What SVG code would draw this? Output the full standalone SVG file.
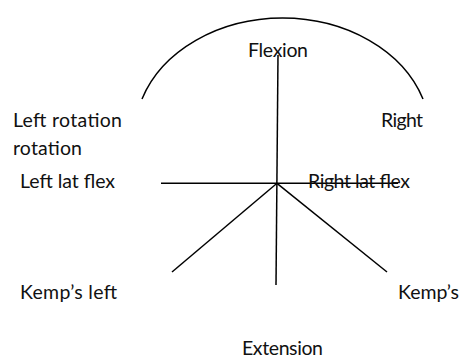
<svg xmlns="http://www.w3.org/2000/svg" width="472" height="364" viewBox="0 0 472 364">
<style>
.t{font-family:Lato,"Liberation Sans",sans-serif;font-size:19.5px;fill:#111}
.l{stroke:#000;stroke-width:1.5;fill:none}
</style>
<rect width="472" height="364" fill="#fff"/>
<g id="connectors">
<path class="l" d="M142,99 A148 118 0 0 1 423,99"/>
<line class="l" x1="278" y1="55" x2="276" y2="285"/>
<line class="l" x1="161" y1="183.3" x2="398" y2="183.3"/>
<line class="l" x1="277" y1="183.3" x2="172" y2="272"/>
<line class="l" x1="277" y1="183.3" x2="387" y2="272"/>
</g>
<g id="flexion"><text class="t" x="248" y="57" textLength="60">Flexion</text></g>
<g id="right"><text class="t" x="381" y="127" textLength="42">Right</text></g>
<g id="left-rotation"><text class="t" x="13" y="127" textLength="109">Left rotation</text><text class="t" x="13" y="155" textLength="69">rotation</text></g>
<g id="left-lat-flex"><text class="t" x="20" y="188" textLength="95">Left lat flex</text></g>
<g id="right-lat-flex"><text class="t" x="308" y="188" textLength="102">Right lat flex</text></g>
<g id="kemps-left"><text class="t" x="20" y="299" textLength="97">Kemp’s left</text></g>
<g id="kemps"><text class="t" x="398" y="299" textLength="61">Kemp’s</text></g>
<g id="extension"><text class="t" x="242" y="355" textLength="81">Extension</text></g>
</svg>
